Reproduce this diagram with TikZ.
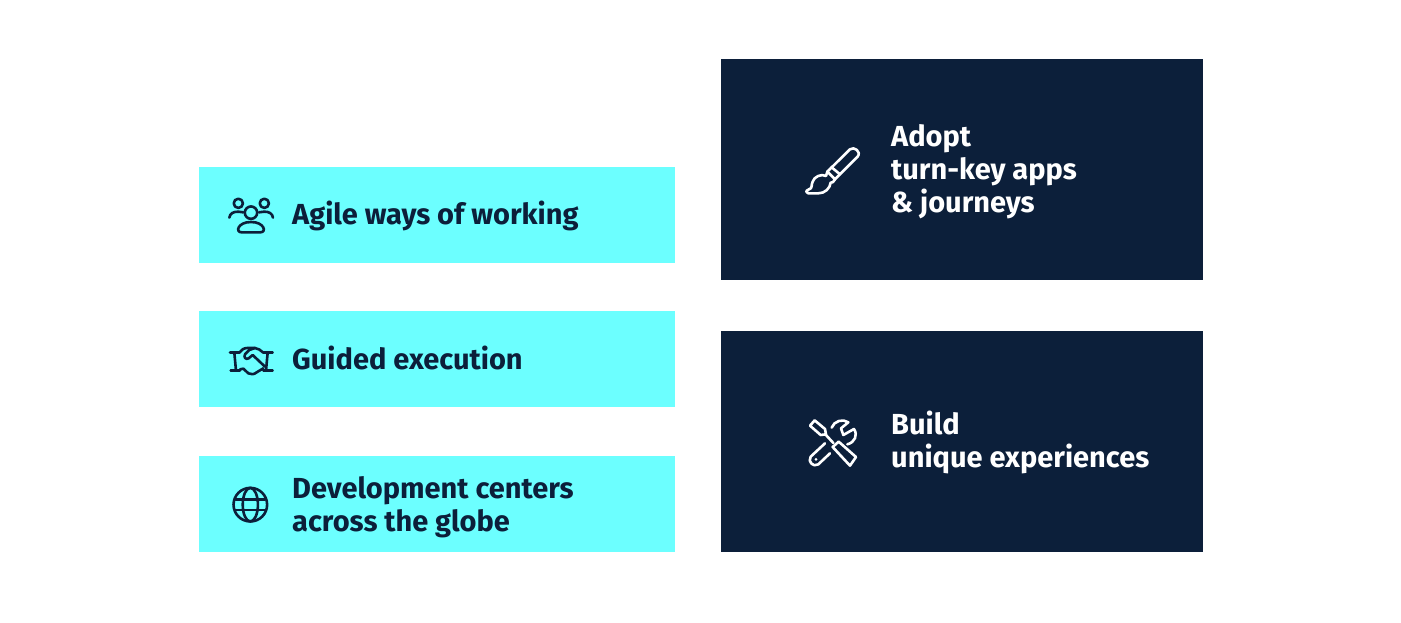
\documentclass[tikz,border=0pt]{standalone}
\usepackage{fontspec}
\setmainfont{Fira Sans}[BoldFont={Fira Sans Bold}]
\definecolor{lightcyan}{HTML}{6CFFFF}
\definecolor{darknavy}{HTML}{0C1F3A}
\tikzset{
	lightbox/.style = {fill=lightcyan, anchor=north west, inner sep=0, minimum width=476pt, minimum height=96pt},
	darkbox/.style = {fill=darknavy, anchor=north west, inner sep=0, minimum width=482pt, minimum height=221pt},
	label/.style = {anchor=west, inner sep=0, align=left, font=\fontsize{29}{33}\selectfont\bfseries},
	iconline/.style = {line width=2.6pt, line cap=round, line join=round, fill=none}
}
\begin{document}
\begin{tikzpicture}[x=1pt,y=-1pt]
\useasboundingbox (0,0) rectangle (1401,622);

\node[lightbox] (agile) at (199,167) {};
\node[lightbox] (guided) at (199,311) {};
\node[lightbox] (centers) at (199,456) {};
\node[darkbox] (adopt) at (721,59) {};
\node[darkbox] (build) at (721,331) {};

\node[label,text=darknavy] (agiletext) at (292,216) {Agile ways of working};
\node[label,text=darknavy] (guidedtext) at (292,358) {Guided execution};
\node[label,text=darknavy] (centerstext) at (292,507.5) {Development centers\\across the globe};
\node[label,text=white] (adopttext) at (891,172) {Adopt\\turn-key apps\\\& journeys};
\node[label,text=white] (buildtext) at (891,442.5) {Build\\unique experiences};

% people
\begin{scope}[shift={(200,170)},x=0.3333pt,y=-0.3333pt,iconline,draw=darknavy]
	\draw (115,100) circle [radius=4.6pt];
	\draw (193,100) circle [radius=4.6pt];
	\draw (153,128) circle [radius=6.2pt];
	\draw (88,143) .. controls (90,130) and (100,125) .. (115,125) -- (130,127);
	\draw (219,143) .. controls (217,130) and (207,125) .. (193,125) -- (177,127);
	\draw (125,187) .. controls (105,187) and (113,156) .. (153,156) .. controls (193,156) and (201,187) .. (181,187) -- cycle;
\end{scope}

% handshake
\begin{scope}[shift={(200,320)},x=0.3333pt,y=-0.3333pt,iconline,draw=darknavy]
	\draw (90,98) -- (118,98);
	\draw (103,98) -- (108,152);
	\draw (92,152) -- (120,152);
	\draw (218,98) -- (190,98);
	\draw (203,98) -- (198,152);
	\draw (218,152) -- (190,152);
	\draw (118,98) .. controls (125,90) and (130,84) .. (142,84) -- (165,84) .. controls (175,84) and (182,92) .. (190,98);
	\draw (165,84) -- (148,90) -- (135,103) .. controls (130,112) and (138,120) .. (146,115) -- (158,105) -- (195,140);
	\draw (120,148) -- (130,146) -- (145,160) .. controls (152,164) and (162,164) .. (170,157) -- (190,145);
\end{scope}

% globe
\begin{scope}[shift={(200,465)},x=0.3333pt,y=-0.3333pt,iconline,draw=darknavy]
	\draw (151,119) circle [radius=16.8pt];
	\draw (151,119) ellipse [x radius=7.6pt, y radius=16.8pt];
	\draw (107,103) -- (195,103);
	\draw (107,135) -- (195,135);
\end{scope}

% brush
\begin{scope}[shift={(790,130)},x=0.3333pt,y=-0.3333pt,iconline,draw=white]
	\draw (112,125) -- (180,58) .. controls (192,48) and (215,65) .. (203,80) -- (135,148);
	\draw (125,112) -- (150,133);
	\draw (112,125) -- (135,148) .. controls (130,155) and (128,160) .. (122,158) .. controls (120,175) and (105,190) .. (85,190) -- (55,190) .. controls (48,190) and (46,182) .. (55,179) .. controls (70,175) and (62,165) .. (68,155) .. controls (72,140) and (95,130) .. (108,138) -- (112,125);
\end{scope}

% tools
\begin{scope}[shift={(790,405)},x=0.3333pt,y=-0.3333pt,iconline,draw=white]
	\draw (60,62) -- (74,46) -- (105,72) -- (108,88) -- (92,90) -- cycle;
	\draw (106,88) -- (130,114);
	\draw (128,126) -- (146,110) -- (198,156) -- (180,182) -- cycle;
	\draw (125,68) .. controls (132,48) and (158,40) .. (175,52) -- (153,70) -- (160,90) -- (192,72) .. controls (204,90) and (195,112) .. (172,118);
	\draw (105,115) -- (62,155) .. controls (52,170) and (70,188) .. (85,178) -- (120,145);
	\fill[white] (78,163) circle [radius=1.5pt];
\end{scope}
\end{tikzpicture}
\end{document}
